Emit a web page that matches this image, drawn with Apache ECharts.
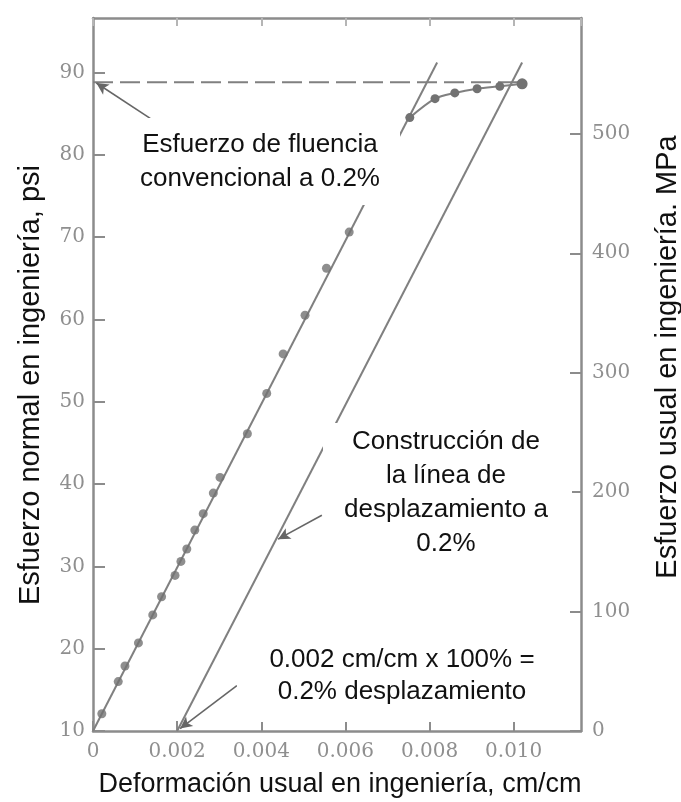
<!DOCTYPE html>
<html>
<head>
<meta charset="utf-8">
<script src="https://cdn.jsdelivr.net/npm/echarts@6/dist/echarts.min.js"></script>
<style>
  html, body { margin: 0; padding: 0; background: #ffffff; }
  #chart { width: 681px; height: 802px; }
</style>
</head>
<body>
<div id="chart"></div>
<script>
// Tensile test readings: engineering strain (cm/cm) vs engineering stress (ksi)
const elasticStrain = [0.00021, 0.00060, 0.00076, 0.00108, 0.00142, 0.00163, 0.00195, 0.00209,
                       0.00223, 0.00242, 0.00262, 0.00286, 0.00302, 0.00367, 0.00413, 0.00452,
                       0.00504, 0.00555, 0.00609];
const elasticStress = [12.1, 16.0, 17.9, 20.7, 24.1, 26.3, 28.9, 30.6,
                       32.1, 34.4, 36.4, 38.9, 40.8, 46.1, 51.0, 55.8,
                       60.5, 66.2, 70.6];

// Readings past the proportional limit
const plasticStrain = [0.00753, 0.00813, 0.00860, 0.00913, 0.00967, 0.01020];
const plasticStress = [84.5, 86.8, 87.5, 88.0, 88.3, 88.6];

// Fitted elastic line and the same line shifted by 0.002 strain
const elasticFitStrain = [0, 0.00818];
const elasticFitStress = [10, 91.2];
const offsetFitStrain = [0.002, 0.0102];
const offsetFitStress = [10, 91.2];

// 0.2% offset yield strength
const yieldStress = 88.8;
const yieldStrainEnd = 0.0102;

// Axis ranges
const strainMax = 0.0116;
const ksiMin = 10, ksiMax = 96.6;
const mpaMin = 0, mpaMax = 597;

const zip = (xs, ys) => xs.map((x, i) => [x, ys[i]]);

const grey = '#808080';
const frame = '#8c8c8c';
const tickFont = { fontFamily: 'DejaVu Serif', fontSize: 20, color: '#8f8f8f' };
const textFont = '26px "Liberation Sans", Arial, sans-serif';
const titleFont = '27px "Liberation Sans", Arial, sans-serif';
const sideTitleFont = '29px "Liberation Sans", Arial, sans-serif';

const chart = echarts.init(document.getElementById('chart'), null, { renderer: 'canvas' });

function box(x, y, w, h, lines, cx, lineHeight) {
  return {
    type: 'group',
    z: 100,
    children: [
      { type: 'rect', shape: { x: x, y: y, width: w, height: h }, style: { fill: '#ffffff' }, z: 100 },
      {
        type: 'text', x: cx, y: y + h / 2, z: 101,
        style: {
          text: lines.join('\n'), font: textFont, fill: '#111111',
          textAlign: 'center', textVerticalAlign: 'middle', lineHeight: lineHeight
        }
      }
    ]
  };
}

const arrowStyle = { color: '#666666', width: 1.6, type: 'solid' };
const arrows = [
  [[0.00136, 84.4], [0.00008, 88.7]],
  [[0.00544, 36.2], [0.00440, 33.3]],
  [[0.00342, 15.5], [0.00207, 10.3]]
];

const option = {
  backgroundColor: '#ffffff',
  animation: false,
  grid: { left: 93, right: 100, top: 18, bottom: 71, containLabel: false },
  xAxis: [
    {
      type: 'value', min: 0, max: strainMax, interval: 0.002, position: 'bottom',
      axisLine: { show: true, lineStyle: { color: frame, width: 2.5 } },
      axisTick: { show: true, inside: true, length: 10, lineStyle: { color: frame, width: 2 } },
      splitLine: { show: false },
      axisLabel: {
        ...tickFont, margin: 11, showMaxLabel: false,
        formatter: v => (v === 0 ? '0' : v.toFixed(3))
      }
    },
    {
      type: 'value', min: 0, max: strainMax, interval: 0.002, position: 'top',
      axisLine: { show: true, lineStyle: { color: frame, width: 2.5 } },
      axisTick: { show: true, inside: true, length: 8, lineStyle: { color: '#b5b5b5', width: 2 } },
      splitLine: { show: false },
      axisLabel: { show: false }
    }
  ],
  yAxis: [
    {
      type: 'value', min: ksiMin, max: ksiMax, interval: 10, position: 'left',
      axisLine: { show: true, lineStyle: { color: frame, width: 2.5 } },
      axisTick: { show: true, inside: true, length: 12, lineStyle: { color: frame, width: 2 } },
      splitLine: { show: false },
      axisLabel: { ...tickFont, margin: 8, showMaxLabel: false }
    },
    {
      type: 'value', min: mpaMin, max: mpaMax, interval: 100, position: 'right',
      axisLine: { show: true, onZero: false, lineStyle: { color: frame, width: 2.5 } },
      axisTick: { show: true, inside: true, length: 11, lineStyle: { color: frame, width: 2 } },
      splitLine: { show: false },
      axisLabel: { ...tickFont, margin: 11, showMaxLabel: false }
    }
  ],
  series: [
    {
      name: 'yield', type: 'line', xAxisIndex: 0, yAxisIndex: 0,
      data: [[0, yieldStress], [yieldStrainEnd, yieldStress]],
      symbol: 'none', lineStyle: { color: grey, width: 2, type: [20, 7] }, z: 2
    },
    {
      name: 'elastic fit', type: 'line', xAxisIndex: 0, yAxisIndex: 0,
      data: zip(elasticFitStrain, elasticFitStress),
      symbol: 'none', lineStyle: { color: grey, width: 2 }, z: 2
    },
    {
      name: 'offset', type: 'line', xAxisIndex: 0, yAxisIndex: 0,
      data: zip(offsetFitStrain, offsetFitStress),
      symbol: 'none', lineStyle: { color: grey, width: 2 }, z: 2,
      markLine: {
        silent: true, symbol: ['none', 'arrow'], symbolSize: [9, 12],
        label: { show: false }, lineStyle: arrowStyle, z: 3,
        data: arrows.map(a => [{ coord: a[0] }, { coord: a[1] }])
      }
    },
    {
      name: 'readings', type: 'scatter', xAxisIndex: 0, yAxisIndex: 0,
      data: zip(elasticStrain, elasticStress),
      symbol: 'circle', symbolSize: 9, itemStyle: { color: '#727272' }, z: 3
    },
    {
      name: 'plastic', type: 'line', xAxisIndex: 0, yAxisIndex: 0,
      data: zip(plasticStrain, plasticStress), smooth: 0.3,
      symbol: 'circle', symbolSize: (v, p) => (p.dataIndex === plasticStrain.length - 1 ? 11 : 9),
      showAllSymbol: true,
      lineStyle: { color: grey, width: 2 }, itemStyle: { color: '#727272' }, z: 3
    }
  ],
  graphic: [
    box(108, 118, 292, 87, ['Esfuerzo de fluencia', 'convencional a 0.2%'], 260, 34),
    box(323, 423, 249, 140, ['Construcción de', 'la línea de', 'desplazamiento a', '0.2%'], 446, 34),
    box(237, 630, 323, 92, ['0.002 cm/cm x 100% =', '0.2% desplazamiento'], 402, 32),
    {
      type: 'text', x: 340, y: 785, z: 100,
      style: { text: 'Deformación usual en ingeniería, cm/cm', font: titleFont, fill: '#111111',
               textAlign: 'center', textVerticalAlign: 'middle' }
    },
    {
      type: 'text', x: 31, y: 385, rotation: Math.PI / 2, z: 100,
      style: { text: 'Esfuerzo normal en ingeniería, psi', font: sideTitleFont, fill: '#111111',
               textAlign: 'center', textVerticalAlign: 'middle' }
    },
    {
      type: 'text', x: 668, y: 357, rotation: Math.PI / 2, z: 100,
      style: { text: 'Esfuerzo usual en ingeniería. MPa', font: sideTitleFont, fill: '#111111',
               textAlign: 'center', textVerticalAlign: 'middle' }
    }
  ]
};

chart.setOption(option);
</script>
</body>
</html>
